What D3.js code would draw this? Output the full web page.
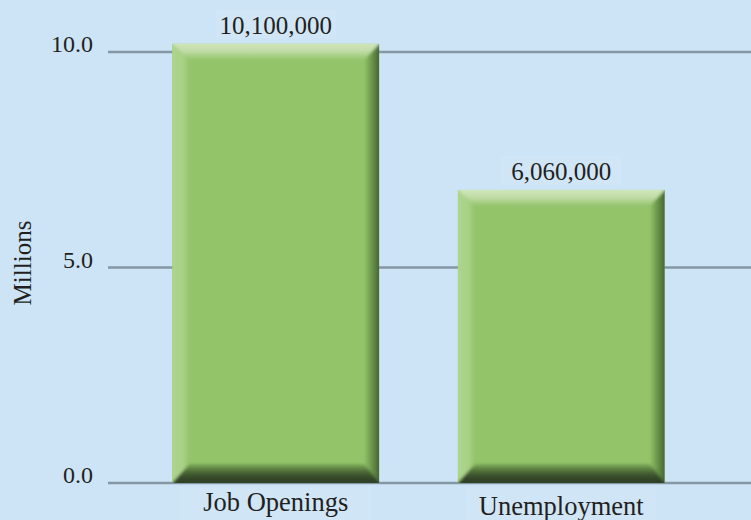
<!DOCTYPE html>
<html>
<head>
<meta charset="utf-8">
<script src="https://cdn.jsdelivr.net/npm/d3@7"></script>
<style>
  body { margin: 0; background: #cde4f6; }
  svg { display: block; }
  text { font-family: "Liberation Serif", "DejaVu Serif", serif; fill: #231f20; }
</style>
</head>
<body>
<svg width="751" height="520"></svg>
<script>
/* -------------------------- Data -------------------------- */
var categories = ['Job Openings', 'Unemployment'];
var bar_values = [10.19, 6.8];            // bar heights (millions)
var value_labels = ['10,100,000', '6,060,000'];
var tick_values = [0, 5, 10];
var tick_labels = ['0.0', '5.0', '10.0'];

/* ------------------------- Config ------------------------- */
var config = {
  width : 751,
  height : 520,
  background : '#cde4f6',
  grid_color : '#8597a5',
  bar_main : '#93c46a',
  bar_left : '#afd590',
  bar_top : '#d6e9c3',
  bar_right : '#374c26',
  bar_bottom : '#2c3a21'
};
var bevel = { left : 17, top : 16, right : 15, bottom : 19 };

var svg = d3.select('svg');
svg.append('rect')
  .attr('width', config.width)
  .attr('height', config.height)
  .attr('fill', config.background);

// scales
var xScale = d3.scaleBand()
  .domain(categories)
  .range([133, 704])
  .paddingInner(0.276)
  .paddingOuter(0.138);

var yScale = d3.scaleLinear()
  .domain([0, 10])
  .range([483, 52]);

/* ------------------------ Gradients ------------------------ */
var defs = svg.append('defs');
function gradient(id, x1, y1, x2, y2, stops){
  var g = defs.append('linearGradient').attr('id', id)
    .attr('x1', x1).attr('y1', y1).attr('x2', x2).attr('y2', y2);
  stops.forEach(function(s){
    g.append('stop').attr('offset', s[0]).attr('stop-color', s[1]);
  });
}
gradient('g_top', 0, 0, 0, 1, [[0, config.bar_top], [0.55, '#c3dda9'], [1, config.bar_main]]);
gradient('g_left', 0, 0, 1, 0, [[0, config.bar_left], [0.7, '#a8d186'], [1, config.bar_main]]);
gradient('g_right', 0, 0, 1, 0, [[0, config.bar_main], [0.4, '#6a964a'], [1, config.bar_right]]);
gradient('g_bottom', 0, 0, 0, 1, [[0, '#7fae5a'], [0.3, '#4f6e38'], [0.6, '#34462a'], [1, config.bar_bottom]]);

// soft edges on the bevel
defs.append('filter').attr('id', 'soft')
  .append('feGaussianBlur').attr('stdDeviation', 1.4);

/* ------------------------ Grid + axis ------------------------ */
var grid = svg.append('g');
grid.selectAll('line')
  .data(tick_values)
  .enter().append('line')
  .attr('x1', 108)
  .attr('x2', config.width)
  .attr('y1', function(d){ return yScale(d); })
  .attr('y2', function(d){ return yScale(d); })
  .attr('stroke', config.grid_color)
  .attr('stroke-width', 2.4);

svg.append('g').selectAll('text')
  .data(tick_values)
  .enter().append('text')
  .attr('x', 93)
  .attr('y', function(d){ return yScale(d); })
  .attr('text-anchor', 'end')
  .style('font-size', '24px')
  .text(function(d, i){ return tick_labels[i]; });

svg.append('text')
  .attr('transform', 'translate(31, 263) rotate(-90)')
  .attr('text-anchor', 'middle')
  .style('font-size', '25px')
  .text('Millions');

/* --------------------------- Bars --------------------------- */
var bars = svg.append('g').selectAll('g')
  .data(bar_values)
  .enter().append('g');

function pts(arr){ return arr.map(function(p){ return p.join(','); }).join(' '); }

bars.each(function(d, i){
  var g = d3.select(this);
  var x0 = xScale(categories[i]), x1 = x0 + xScale.bandwidth();
  var y0 = yScale(d), y1 = yScale(0);
  var l = bevel.left, t = bevel.top, r = bevel.right, b = bevel.bottom;

  defs.append('clipPath').attr('id', 'clip' + i)
    .append('rect')
    .attr('x', x0).attr('y', y0)
    .attr('width', x1 - x0).attr('height', y1 - y0);

  g.append('rect')
    .attr('x', x0).attr('y', y0)
    .attr('width', x1 - x0).attr('height', y1 - y0)
    .attr('fill', config.bar_main);

  var inner = g.append('g').attr('clip-path', 'url(#clip' + i + ')')
    .append('g').attr('filter', 'url(#soft)');
  // left strip
  inner.append('polygon')
    .attr('points', pts([[x0 - 4, y0 - 4], [x0 + l, y0 + t], [x0 + l, y1 - b], [x0 - 4, y1 + 4]]))
    .attr('fill', 'url(#g_left)');
  // right strip
  inner.append('polygon')
    .attr('points', pts([[x1 + 4, y0 - 4], [x1 + 4, y1 + 4], [x1 - r, y1 - b], [x1 - r, y0 + t]]))
    .attr('fill', 'url(#g_right)');
  // top strip
  inner.append('polygon')
    .attr('points', pts([[x0 - 4, y0 - 4], [x1 + 4, y0 - 4], [x1 - r, y0 + t], [x0 + l, y0 + t]]))
    .attr('fill', 'url(#g_top)');
  // bottom strip
  inner.append('polygon')
    .attr('points', pts([[x0 - 4, y1 + 4], [x0 + l, y1 - b], [x1 - r, y1 - b], [x1 + 4, y1 + 4]]))
    .attr('fill', 'url(#g_bottom)');
});

/* -------------------------- Labels -------------------------- */
// value labels, with the faint box behind them
var vlabels = svg.append('g').selectAll('g')
  .data(bar_values)
  .enter().append('g');

vlabels.append('rect')
  .attr('x', function(d, i){ return xScale(categories[i]) + xScale.bandwidth() / 2 - 60; })
  .attr('y', function(d){ return yScale(d) - 34; })
  .attr('width', 120)
  .attr('height', 29)
  .attr('fill', '#d0e6f7');

vlabels.append('text')
  .attr('x', function(d, i){ return xScale(categories[i]) + xScale.bandwidth() / 2; })
  .attr('y', function(d){ return yScale(d) - 10; })
  .attr('text-anchor', 'middle')
  .style('font-size', '25px')
  .text(function(d, i){ return value_labels[i]; });

var clabels = svg.append('g').selectAll('g')
  .data(categories)
  .enter().append('g');

clabels.append('rect')
  .attr('x', function(d){ return xScale(d) + xScale.bandwidth() / 2 - 95; })
  .attr('y', yScale(0) + 4)
  .attr('width', 190)
  .attr('height', 40)
  .attr('fill', '#d0e6f7');

clabels.append('text')
  .attr('x', function(d){ return xScale(d) + xScale.bandwidth() / 2; })
  .attr('y', function(d, i){ return yScale(0) + 28 + i * 4; })
  .attr('text-anchor', 'middle')
  .style('font-size', '26.5px')
  .text(function(d){ return d; });
</script>
</body>
</html>
